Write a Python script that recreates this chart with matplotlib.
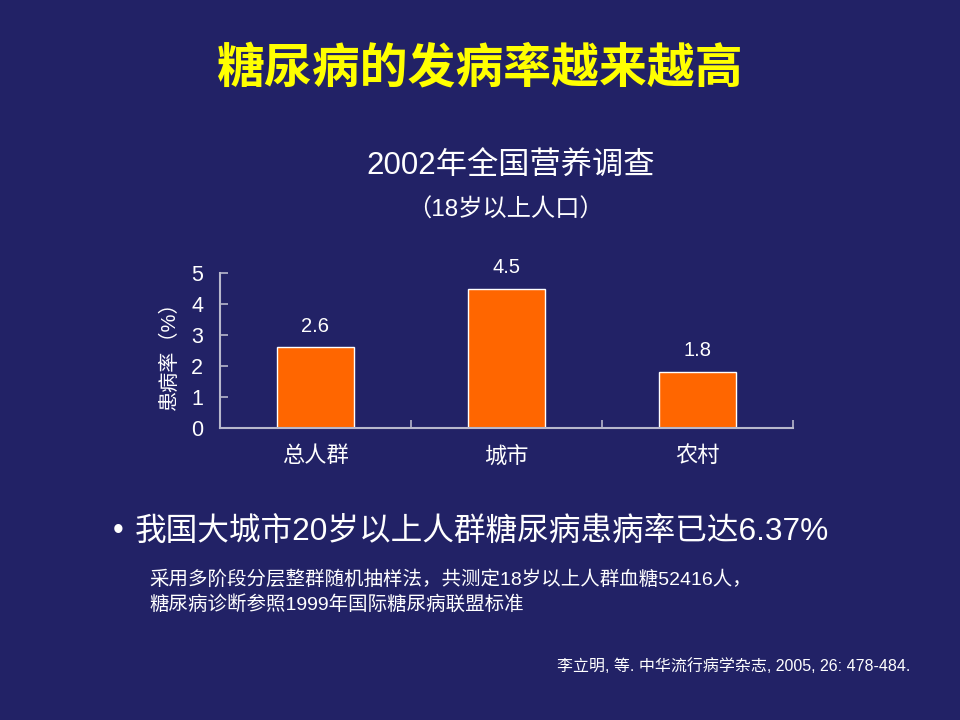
import numpy as np
import matplotlib.pyplot as plt

plt.rcParams['font.family'] = ['Liberation Sans', 'Noto Sans CJK SC', 'DejaVu Sans']

# data
categories = ['总人群', '城市', '农村']
rates = [2.6, 4.5, 1.8]
yticks = [0, 1, 2, 3, 4, 5]

bg = '#222266'
axcol = '#B8B8CC'

fig = plt.figure(figsize=(9.6, 7.2), dpi=100, facecolor=bg)

fig.text(0.5, 0.903, '糖尿病的发病率越来越高', color='#FFFF00', fontsize=34.5,
         fontweight='bold', ha='center', va='center')
fig.text(0.532, 0.768, '2002年全国营养调查', color='white', fontsize=22.5,
         ha='center', va='center')
fig.text(0.527, 0.708, '（18岁以上人口）', color='white', fontsize=17.5,
         ha='center', va='center')

ax = fig.add_axes([0.229, 0.4056, 0.597, 0.215])
ax.set_facecolor(bg)
x = np.arange(len(categories))
bars = ax.bar(x, rates, width=0.4, color='#FF6600', edgecolor='white', linewidth=1.0)
for xi, v in zip(x, rates):
    ax.text(xi, v + 0.38, f'{v}', color='white', fontsize=14.5, ha='center', va='bottom')

ax.set_xlim(-0.5, 2.5)
ax.set_ylim(0, 5)
ax.set_yticks(yticks)
ax.set_xticks(x)
ax.set_xticklabels(categories)
ax.set_xticks([0.5, 1.5, 2.5], minor=True)
ax.tick_params(axis='x', which='major', length=0, pad=13, labelsize=16, labelcolor='white')
ax.tick_params(axis='x', which='minor', length=6, direction='in', color=axcol, width=1.2)
ax.tick_params(axis='y', length=6, direction='in', color=axcol, width=1.2,
               labelsize=15.5, labelcolor='white', pad=12)
for s in ['top', 'right']:
    ax.spines[s].set_visible(False)
for s in ['left', 'bottom']:
    ax.spines[s].set_color(axcol)
    ax.spines[s].set_linewidth(1.5)
ax.set_ylabel('患病率（%）', color='white', fontsize=14.5, labelpad=9)

fig.text(0.123, 0.263, '•', color='white', fontsize=22, ha='center', va='center')
fig.text(0.140, 0.262, '我国大城市20岁以上人群糖尿病患病率已达6.37%', color='white',
         fontsize=22.8, ha='left', va='center')
fig.text(0.156, 0.195, '采用多阶段分层整群随机抽样法，共测定18岁以上人群血糖52416人，',
         color='white', fontsize=14, ha='left', va='center')
fig.text(0.156, 0.161, '糖尿病诊断参照1999年国际糖尿病联盟标准',
         color='white', fontsize=14, ha='left', va='center')
fig.text(0.948, 0.075, '李立明, 等. 中华流行病学杂志, 2005, 26: 478-484.',
         color='white', fontsize=11.5, ha='right', va='center')

fig.savefig('out.png', dpi=100, facecolor=bg)
